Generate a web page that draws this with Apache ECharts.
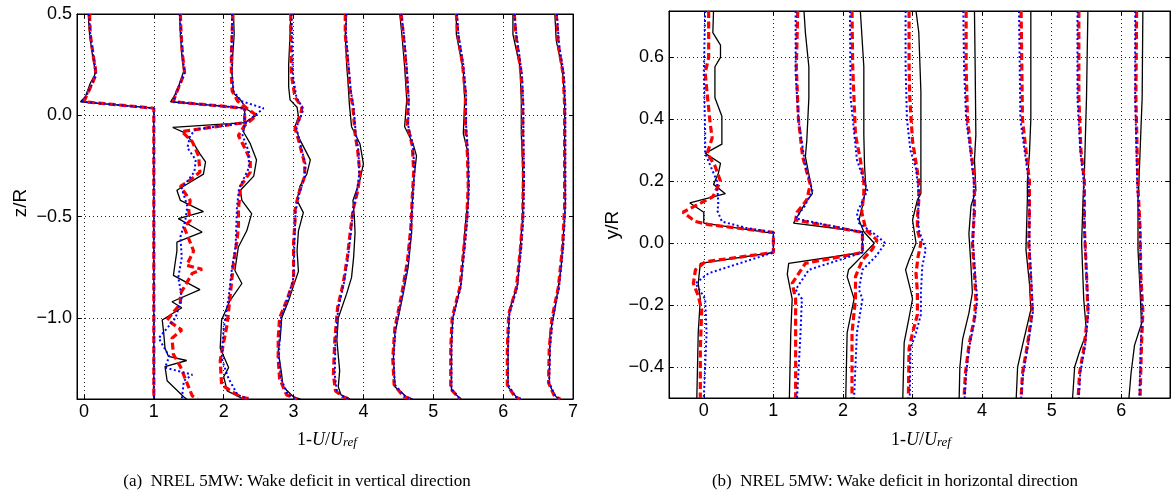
<!DOCTYPE html>
<html><head><meta charset="utf-8">
<script src="https://cdn.jsdelivr.net/npm/echarts@6/dist/echarts.min.js"></script>
<style>html,body{margin:0;padding:0;background:#fff}#c{width:1174px;height:495px}</style>
</head><body><div id="c"></div>
<script>
// ---------- Tick labels ----------
const leftXTicks = [0,1,2,3,4,5,6,7];
const leftYTicks = [-1.0,-0.5,0.0,0.5];
const rightXTicks = [0,1,2,3,4,5,6];
const rightYTicks = [-0.4,-0.2,0.0,0.2,0.4,0.6];

// ---------- Left panel (z/R) : [1-U/Uref (+offset), z/R] ----------
const L0_black = [[0.06,0.5],[0.08,0.4],[0.12,0.3],[0.15,0.24],[0.155,0.2],[0.09,0.158],[0.02,0.092],[-0.05,0.067],[1.0,0.035],[1.0,-0.5],[1.0,-1.0],[1.0,-1.4]];
const L0_red   = [[0.08,0.5],[0.09,0.4],[0.13,0.3],[0.16,0.24],[0.17,0.2],[0.11,0.15],[0.04,0.1],[0.0,0.067],[1.0,0.035],[1.0,-0.5],[1.0,-1.0],[1.0,-1.4]];
const L0_blue  = [[0.07,0.5],[0.09,0.4],[0.13,0.3],[0.16,0.24],[0.17,0.2],[0.11,0.15],[0.04,0.1],[-0.02,0.067],[1.0,0.035],[1.0,-0.5],[1.0,-1.0],[1.0,-1.4]];

const L1_black = [[1.37,0.5],[1.38,0.4],[1.40,0.3],[1.42,0.24],[1.43,0.22],[1.36,0.15],[1.30,0.1],[1.24,0.067],[2.3,0.035],[2.3,-0.036],[1.27,-0.06],[1.43,-0.084],[1.55,-0.13],[1.57,-0.14],[1.66,-0.19],[1.74,-0.23],[1.71,-0.29],[1.52,-0.33],[1.33,-0.37],[1.38,-0.42],[1.71,-0.475],[1.35,-0.51],[1.69,-0.576],[1.33,-0.626],[1.33,-0.67],[1.30,-0.74],[1.28,-0.79],[1.66,-0.86],[1.26,-0.92],[1.40,-0.95],[1.12,-1.01],[1.14,-1.07],[1.16,-1.15],[1.21,-1.19],[1.47,-1.21],[1.16,-1.24],[1.19,-1.31],[1.43,-1.39],[1.47,-1.4]];
const L1_red   = [[1.38,0.5],[1.39,0.4],[1.41,0.3],[1.43,0.24],[1.44,0.21],[1.37,0.15],[1.31,0.1],[1.28,0.067],[2.3,0.035],[2.3,-0.036],[1.40,-0.08],[1.55,-0.13],[1.64,-0.2],[1.66,-0.28],[1.52,-0.32],[1.38,-0.35],[1.52,-0.42],[1.50,-0.47],[1.52,-0.52],[1.43,-0.55],[1.57,-0.67],[1.47,-0.74],[1.69,-0.76],[1.55,-0.78],[1.38,-0.88],[1.38,-0.93],[1.19,-1.01],[1.40,-1.06],[1.26,-1.1],[1.28,-1.18],[1.38,-1.24],[1.55,-1.385],[1.62,-1.4]];
const L1_blue  = [[1.37,0.5],[1.39,0.4],[1.41,0.3],[1.43,0.24],[1.44,0.21],[1.37,0.15],[1.31,0.1],[1.28,0.067],[2.3,0.035],[2.3,-0.036],[1.60,-0.07],[1.52,-0.1],[1.48,-0.16],[1.60,-0.22],[1.58,-0.28],[1.40,-0.36],[1.48,-0.45],[1.45,-0.52],[1.38,-0.6],[1.40,-0.7],[1.35,-0.8],[1.40,-0.9],[1.31,-1.0],[1.19,-1.05],[1.07,-1.1],[1.22,-1.19],[1.16,-1.245],[1.55,-1.28],[1.43,-1.31],[1.40,-1.4]];

const L2_black = [[2.14,0.5],[2.15,0.4],[2.13,0.3],[2.12,0.2],[2.14,0.11],[2.24,0.076],[2.33,0.03],[2.47,0.0],[2.33,-0.03],[2.28,-0.08],[2.38,-0.14],[2.47,-0.22],[2.43,-0.30],[2.24,-0.37],[2.26,-0.42],[2.40,-0.485],[2.33,-0.57],[2.21,-0.65],[2.16,-0.766],[2.26,-0.83],[2.09,-0.914],[1.97,-1.01],[1.95,-1.15],[2.07,-1.245],[2.0,-1.29],[2.05,-1.36],[2.28,-1.4]];
const L2_red   = [[2.13,0.5],[2.12,0.4],[2.11,0.3],[2.11,0.2],[2.12,0.12],[2.2,0.07],[2.35,0.03],[2.47,0.0],[2.3,-0.05],[2.21,-0.1],[2.3,-0.16],[2.38,-0.22],[2.38,-0.28],[2.24,-0.35],[2.21,-0.47],[2.21,-0.55],[2.19,-0.62],[2.14,-0.73],[2.09,-0.9],[2.05,-1.03],[1.95,-1.21],[1.97,-1.33],[2.24,-1.39],[2.4,-1.4]];
const L2_blue  = [[2.12,0.5],[2.12,0.4],[2.11,0.3],[2.12,0.2],[2.14,0.12],[2.25,0.07],[2.57,0.035],[2.45,0.0],[2.3,-0.04],[2.27,-0.1],[2.36,-0.18],[2.36,-0.26],[2.22,-0.36],[2.19,-0.45],[2.18,-0.55],[2.17,-0.65],[2.12,-0.75],[2.07,-0.9],[2.0,-1.05],[1.97,-1.2],[2.07,-1.3],[2.2,-1.38],[2.35,-1.4]];

const L3_black = [[2.96,0.5],[2.95,0.4],[2.93,0.25],[2.93,0.14],[2.95,0.076],[3.05,0.04],[3.07,-0.007],[3.02,-0.056],[3.09,-0.12],[3.24,-0.22],[3.19,-0.29],[3.09,-0.35],[3.05,-0.42],[3.14,-0.48],[3.07,-0.57],[3.05,-0.67],[3.07,-0.77],[3.0,-0.84],[2.93,-0.914],[2.83,-1.0],[2.81,-1.1],[2.78,-1.16],[2.83,-1.28],[2.85,-1.34],[3.0,-1.39],[3.1,-1.4]];
const L3_red   = [[2.96,0.5],[2.96,0.4],[2.97,0.2],[3.02,0.09],[3.12,0.04],[3.10,0.0],[3.02,-0.064],[3.07,-0.12],[3.16,-0.24],[3.16,-0.3],[3.07,-0.39],[3.02,-0.47],[3.02,-0.52],[3.0,-0.63],[3.0,-0.82],[2.9,-0.914],[2.8,-1.0],[2.78,-1.1],[2.78,-1.2],[2.80,-1.3],[2.9,-1.38],[3.05,-1.4]];
const L3_blue  = [[2.97,0.5],[2.98,0.4],[2.99,0.2],[3.04,0.09],[3.14,0.03],[3.10,-0.01],[3.04,-0.06],[3.08,-0.12],[3.17,-0.24],[3.16,-0.3],[3.08,-0.39],[3.03,-0.47],[3.02,-0.55],[3.01,-0.65],[3.0,-0.8],[2.92,-0.9],[2.82,-1.0],[2.80,-1.1],[2.79,-1.2],[2.82,-1.3],[2.92,-1.38],[3.05,-1.4]];

const L4_black = [[3.76,0.5],[3.74,0.4],[3.76,0.25],[3.78,0.16],[3.80,0.05],[3.83,-0.056],[3.95,-0.14],[4.0,-0.24],[3.95,-0.32],[3.85,-0.42],[3.87,-0.5],[3.88,-0.58],[3.86,-0.7],[3.83,-0.8],[3.76,-0.88],[3.64,-1.0],[3.62,-1.11],[3.66,-1.26],[3.64,-1.34],[3.68,-1.38],[3.81,-1.4]];
const L4_red   = [[3.74,0.5],[3.74,0.4],[3.78,0.24],[3.81,0.12],[3.85,0.04],[3.88,-0.09],[3.92,-0.18],[3.95,-0.29],[3.92,-0.37],[3.85,-0.47],[3.81,-0.58],[3.77,-0.7],[3.71,-0.83],[3.63,-0.95],[3.59,-1.11],[3.57,-1.28],[3.60,-1.36],[3.71,-1.39],[3.8,-1.4]];
const L4_blue  = [[3.75,0.5],[3.75,0.4],[3.79,0.24],[3.82,0.12],[3.86,0.04],[3.89,-0.09],[3.93,-0.18],[3.94,-0.29],[3.91,-0.37],[3.85,-0.47],[3.82,-0.58],[3.78,-0.7],[3.72,-0.83],[3.64,-0.95],[3.60,-1.11],[3.59,-1.28],[3.62,-1.36],[3.72,-1.39],[3.8,-1.4]];

const L5_black = [[4.52,0.5],[4.55,0.4],[4.59,0.24],[4.62,0.076],[4.59,-0.056],[4.71,-0.14],[4.76,-0.2],[4.71,-0.35],[4.69,-0.5],[4.69,-0.58],[4.64,-0.75],[4.57,-0.88],[4.45,-1.08],[4.43,-1.19],[4.45,-1.34],[4.62,-1.39],[4.7,-1.4]];
const L5_red   = [[4.54,0.5],[4.57,0.4],[4.61,0.24],[4.64,0.076],[4.63,-0.05],[4.70,-0.15],[4.72,-0.28],[4.70,-0.4],[4.68,-0.55],[4.63,-0.72],[4.55,-0.88],[4.45,-1.05],[4.42,-1.2],[4.44,-1.33],[4.58,-1.39],[4.7,-1.4]];
const L5_blue  = [[4.54,0.5],[4.58,0.4],[4.62,0.24],[4.65,0.076],[4.64,-0.05],[4.71,-0.15],[4.73,-0.28],[4.71,-0.4],[4.68,-0.55],[4.64,-0.72],[4.56,-0.88],[4.46,-1.05],[4.43,-1.2],[4.45,-1.33],[4.6,-1.39],[4.7,-1.4]];

const L6_black = [[5.33,0.5],[5.33,0.4],[5.43,0.22],[5.45,0.076],[5.43,-0.09],[5.5,-0.19],[5.5,-0.35],[5.5,-0.42],[5.47,-0.5],[5.45,-0.58],[5.4,-0.83],[5.28,-1.0],[5.26,-1.11],[5.26,-1.36],[5.4,-1.4]];
const L6_red   = [[5.33,0.5],[5.35,0.4],[5.42,0.25],[5.46,0.1],[5.46,-0.05],[5.49,-0.2],[5.5,-0.35],[5.48,-0.5],[5.44,-0.65],[5.38,-0.85],[5.27,-1.0],[5.25,-1.15],[5.25,-1.35],[5.38,-1.4]];
const L6_blue  = [[5.34,0.5],[5.36,0.4],[5.43,0.25],[5.47,0.1],[5.47,-0.05],[5.5,-0.2],[5.51,-0.35],[5.49,-0.5],[5.45,-0.65],[5.39,-0.85],[5.28,-1.0],[5.26,-1.15],[5.26,-1.35],[5.38,-1.4]];

const L7_black = [[6.14,0.5],[6.14,0.4],[6.24,0.24],[6.26,0.076],[6.26,-0.09],[6.28,-0.25],[6.28,-0.5],[6.26,-0.58],[6.21,-0.83],[6.09,-0.96],[6.07,-1.11],[6.07,-1.34],[6.19,-1.39],[6.25,-1.4]];
const L7_red   = [[6.16,0.5],[6.18,0.4],[6.26,0.2],[6.28,0.05],[6.28,-0.1],[6.29,-0.3],[6.28,-0.5],[6.25,-0.65],[6.19,-0.85],[6.08,-0.98],[6.06,-1.15],[6.06,-1.33],[6.17,-1.39],[6.25,-1.4]];
const L7_blue  = [[6.16,0.5],[6.19,0.4],[6.27,0.2],[6.29,0.05],[6.29,-0.1],[6.30,-0.3],[6.29,-0.5],[6.26,-0.65],[6.2,-0.85],[6.09,-0.98],[6.07,-1.15],[6.07,-1.33],[6.18,-1.39],[6.25,-1.4]];

const L8_black = [[6.74,0.5],[6.76,0.37],[6.85,0.22],[6.88,0.076],[6.88,-0.17],[6.89,-0.42],[6.88,-0.5],[6.83,-0.75],[6.74,-0.96],[6.67,-1.08],[6.66,-1.33],[6.76,-1.39],[6.82,-1.4]];
const L8_red   = [[6.76,0.5],[6.79,0.35],[6.86,0.2],[6.88,0.05],[6.88,-0.2],[6.88,-0.45],[6.85,-0.65],[6.79,-0.85],[6.70,-1.0],[6.66,-1.15],[6.65,-1.32],[6.74,-1.39],[6.82,-1.4]];
const L8_blue  = [[6.77,0.5],[6.80,0.35],[6.87,0.2],[6.89,0.05],[6.89,-0.2],[6.89,-0.45],[6.86,-0.65],[6.80,-0.85],[6.71,-1.0],[6.67,-1.15],[6.66,-1.32],[6.75,-1.39],[6.82,-1.4]];

// ---------- Right panel (y/R) ----------
const R0_black = [[0.14,0.75],[0.13,0.68],[0.24,0.64],[0.24,0.6],[0.16,0.57],[0.16,0.47],[0.26,0.41],[0.26,0.32],[0.02,0.29],[0.24,0.258],[0.21,0.226],[0.14,0.19],[0.31,0.16],[-0.2,0.13],[0.0,0.10],[0.0,0.065],[1.0,0.032],[1.0,-0.03],[-0.05,-0.065],[-0.08,-0.13],[-0.05,-0.18],[-0.08,-0.29],[-0.1,-0.5]];
const R0_red   = [[0.07,0.75],[0.07,0.6],[0.02,0.55],[0.05,0.48],[0.09,0.39],[0.12,0.34],[0.05,0.29],[0.16,0.25],[0.24,0.2],[0.13,0.15],[-0.3,0.1],[-0.12,0.07],[0.07,0.06],[1.0,0.035],[1.0,-0.03],[0.02,-0.06],[-0.12,-0.086],[-0.15,-0.13],[-0.08,-0.17],[-0.03,-0.215],[-0.05,-0.34],[-0.05,-0.5]];
const R0_blue  = [[0.02,0.75],[0.0,0.55],[0.02,0.35],[0.02,0.29],[0.19,0.2],[0.21,0.12],[0.19,0.107],[0.26,0.07],[0.6,0.05],[1.0,0.035],[1.0,-0.03],[0.07,-0.097],[-0.12,-0.13],[0.02,-0.18],[0.04,-0.29],[0.0,-0.5]];

const R1_black = [[1.44,0.75],[1.46,0.68],[1.51,0.57],[1.51,0.47],[1.48,0.33],[1.46,0.28],[1.53,0.2],[1.56,0.16],[1.46,0.13],[1.29,0.065],[2.28,0.037],[2.28,-0.03],[1.22,-0.065],[1.2,-0.1],[1.27,-0.18],[1.25,-0.29],[1.23,-0.5]];
const R1_red   = [[1.35,0.75],[1.33,0.57],[1.36,0.4],[1.42,0.28],[1.53,0.19],[1.48,0.14],[1.34,0.1],[1.32,0.075],[2.28,0.035],[2.28,-0.03],[1.46,-0.065],[1.27,-0.13],[1.32,-0.18],[1.32,-0.29],[1.32,-0.5]];
const R1_blue  = [[1.32,0.75],[1.32,0.55],[1.36,0.4],[1.46,0.25],[1.56,0.17],[1.45,0.12],[1.32,0.08],[2.28,0.035],[2.28,-0.03],[1.51,-0.086],[1.32,-0.15],[1.41,-0.18],[1.39,-0.29],[1.34,-0.5]];

const R2_black = [[2.25,0.75],[2.3,0.57],[2.3,0.35],[2.31,0.25],[2.33,0.18],[2.28,0.12],[2.23,0.075],[2.3,0.037],[2.45,0.0],[2.28,-0.04],[2.08,-0.086],[2.06,-0.108],[2.16,-0.18],[2.06,-0.29],[2.04,-0.5]];
const R2_red   = [[2.13,0.75],[2.14,0.57],[2.18,0.35],[2.25,0.27],[2.3,0.2],[2.3,0.16],[2.27,0.1],[2.33,0.043],[2.49,0.01],[2.42,-0.02],[2.28,-0.054],[2.18,-0.108],[2.18,-0.18],[2.13,-0.29],[2.13,-0.5]];
const R2_blue  = [[2.1,0.75],[2.11,0.47],[2.2,0.27],[2.35,0.17],[2.2,0.097],[2.23,0.065],[2.47,0.027],[2.61,0.0],[2.47,-0.043],[2.28,-0.086],[2.23,-0.15],[2.28,-0.18],[2.2,-0.29],[2.16,-0.5]];

const R3_black = [[3.05,0.75],[3.09,0.68],[3.12,0.49],[3.12,0.3],[3.12,0.16],[3.07,0.14],[3.0,0.075],[3.05,0.0],[2.95,-0.054],[2.9,-0.086],[2.97,-0.15],[3.0,-0.18],[2.95,-0.24],[2.88,-0.32],[2.86,-0.5]];
const R3_red   = [[2.95,0.75],[2.95,0.57],[2.96,0.47],[3.0,0.33],[3.05,0.26],[3.09,0.2],[3.09,0.14],[3.07,0.08],[3.07,0.043],[3.12,0.0],[3.08,-0.043],[3.05,-0.097],[3.07,-0.16],[3.07,-0.23],[3.0,-0.29],[2.95,-0.34],[2.94,-0.5]];
const R3_blue  = [[2.9,0.75],[2.9,0.57],[2.92,0.4],[2.97,0.3],[3.05,0.24],[3.09,0.16],[3.08,0.1],[3.09,0.043],[3.19,-0.02],[3.14,-0.075],[3.12,-0.16],[3.12,-0.23],[3.05,-0.29],[2.97,-0.34],[2.96,-0.5]];

const R4_black = [[3.89,0.75],[3.9,0.57],[3.91,0.35],[3.89,0.27],[3.91,0.17],[3.84,0.12],[3.81,0.03],[3.84,-0.075],[3.86,-0.16],[3.81,-0.226],[3.72,-0.31],[3.68,-0.4],[3.67,-0.5]];
const R4_red   = [[3.77,0.75],[3.77,0.57],[3.79,0.4],[3.84,0.3],[3.89,0.2],[3.89,0.1],[3.86,0.0],[3.89,-0.1],[3.91,-0.18],[3.89,-0.24],[3.81,-0.33],[3.76,-0.42],[3.74,-0.5]];
const R4_blue  = [[3.73,0.75],[3.74,0.57],[3.77,0.4],[3.83,0.3],[3.88,0.2],[3.88,0.1],[3.87,0.0],[3.9,-0.1],[3.93,-0.18],[3.9,-0.24],[3.82,-0.33],[3.77,-0.42],[3.75,-0.5]];

const R5_black = [[4.7,0.75],[4.7,0.4],[4.68,0.29],[4.65,0.2],[4.65,0.14],[4.63,-0.02],[4.68,-0.13],[4.7,-0.215],[4.58,-0.33],[4.51,-0.4],[4.49,-0.5]];
const R5_red   = [[4.56,0.75],[4.58,0.4],[4.63,0.3],[4.68,0.2],[4.68,0.1],[4.67,0.0],[4.7,-0.13],[4.72,-0.22],[4.65,-0.33],[4.58,-0.42],[4.56,-0.5]];
const R5_blue  = [[4.53,0.75],[4.55,0.4],[4.61,0.3],[4.67,0.2],[4.68,0.1],[4.68,0.0],[4.71,-0.13],[4.73,-0.22],[4.66,-0.33],[4.59,-0.42],[4.56,-0.5]];

const R6_black = [[5.52,0.75],[5.5,0.47],[5.47,0.23],[5.45,0.14],[5.43,0.0],[5.46,-0.18],[5.5,-0.29],[5.4,-0.35],[5.33,-0.4],[5.3,-0.5]];
const R6_red   = [[5.39,0.75],[5.39,0.47],[5.42,0.3],[5.47,0.2],[5.47,0.05],[5.5,-0.1],[5.52,-0.22],[5.47,-0.33],[5.4,-0.42],[5.38,-0.5]];
const R6_blue  = [[5.37,0.75],[5.37,0.47],[5.41,0.3],[5.46,0.2],[5.47,0.05],[5.5,-0.1],[5.53,-0.22],[5.48,-0.33],[5.41,-0.42],[5.39,-0.5]];

const R7_black = [[6.31,0.75],[6.3,0.47],[6.25,0.18],[6.24,0.14],[6.24,-0.02],[6.27,-0.15],[6.29,-0.26],[6.19,-0.33],[6.14,-0.42],[6.11,-0.5]];
const R7_red   = [[6.22,0.75],[6.21,0.47],[6.24,0.18],[6.27,0.05],[6.28,-0.1],[6.31,-0.22],[6.29,-0.33],[6.27,-0.5]];
const R7_blue  = [[6.2,0.75],[6.2,0.47],[6.23,0.18],[6.27,0.05],[6.28,-0.1],[6.3,-0.22],[6.28,-0.33],[6.26,-0.5]];

const leftSets = [[L0_black,L0_red,L0_blue],[L1_black,L1_red,L1_blue],[L2_black,L2_red,L2_blue],[L3_black,L3_red,L3_blue],[L4_black,L4_red,L4_blue],[L5_black,L5_red,L5_blue],[L6_black,L6_red,L6_blue],[L7_black,L7_red,L7_blue],[L8_black,L8_red,L8_blue]];
const rightSets = [[R0_black,R0_red,R0_blue],[R1_black,R1_red,R1_blue],[R2_black,R2_red,R2_blue],[R3_black,R3_red,R3_blue],[R4_black,R4_red,R4_blue],[R5_black,R5_red,R5_blue],[R6_black,R6_red,R6_blue],[R7_black,R7_red,R7_blue]];

// ---------- Styling ----------
const FONT = 'Liberation Sans, Arial, sans-serif';
const SERIF = 'Liberation Serif, Times New Roman, serif';
const lineStyles = [
  {color:'#000000', width:1.3, type:'solid'},
  {color:'#ff0000', width:3.2, type:[7,3.5]},
  {color:'#0000ff', width:2, type:[2,2.5]}
];
const minus = v => (v < 0 ? '\u2212' : '') + Math.abs(v).toFixed(1);

function xAx(gi, min, max, ticks, pos, labels) {
  return {
    type:'value', gridIndex:gi, position:pos, min, max,
    axisLine:{show:true, onZero:false, lineStyle:{color:'#000', width:1}},
    axisTick:{show:true, inside:true, length:4, customValues:ticks, lineStyle:{color:'#000'}},
    axisLabel:{show:labels, customValues:ticks, color:'#000', fontFamily:FONT, fontSize:18, margin:4, formatter:v=>String(Math.round(v))},
    splitLine:{show:labels, lineStyle:{color:'#222', width:1, type:[1,3]}}
  };
}
function yAx(gi, min, max, ticks, pos, labels) {
  return {
    type:'value', gridIndex:gi, position:pos, min, max,
    axisLine:{show:true, onZero:false, lineStyle:{color:'#000', width:1}},
    axisTick:{show:true, inside:true, length:4, customValues:ticks, lineStyle:{color:'#000'}},
    axisLabel:{show:labels, customValues:ticks, color:'#000', fontFamily:FONT, fontSize:18, margin:5, formatter:minus},
    splitLine:{show:labels, lineStyle:{color:'#222', width:1, type:[1,3]}}
  };
}

const series = [];
function addSets(sets, axisIdx) {
  sets.forEach(set => {
    set.forEach((d, k) => {
      series.push({
        type:'line', xAxisIndex:axisIdx, yAxisIndex:axisIdx, data:d,
        symbol:'none', showSymbol:false, animation:false, silent:true,
        lineStyle:lineStyles[k], z:2+k
      });
    });
  });
}
addSets(leftSets, 0);
addSets(rightSets, 2);

const xName = {
  n:{fontFamily:SERIF, fontSize:18, fill:'#000', verticalAlign:'top', lineHeight:18},
  i:{fontFamily:SERIF, fontSize:18, fontStyle:'italic', fill:'#000', verticalAlign:'top', lineHeight:18},
  s:{fontFamily:SERIF, fontSize:13, fontStyle:'italic', fill:'#000', verticalAlign:'bottom', lineHeight:13, padding:[11,0,0,0]}
};

const chart = echarts.init(document.getElementById('c'), null, {renderer:'canvas'});
chart.setOption({
  animation:false,
  backgroundColor:'#fff',
  grid:[
    {left:77, top:14, width:496, height:385, show:true, borderColor:'#000', borderWidth:1},
    {left:669, top:11, width:501, height:387, show:true, borderColor:'#000', borderWidth:1}
  ],
  xAxis:[
    xAx(0,-0.1,7,leftXTicks,'bottom',true),
    xAx(0,-0.1,7,leftXTicks,'top',false),
    xAx(1,-0.5,6.7,rightXTicks,'bottom',true),
    xAx(1,-0.5,6.7,rightXTicks,'top',false)
  ],
  yAxis:[
    yAx(0,-1.4,0.5,leftYTicks,'left',true),
    yAx(0,-1.4,0.5,leftYTicks,'right',false),
    yAx(1,-0.5,0.75,rightYTicks,'left',true),
    yAx(1,-0.5,0.75,rightYTicks,'right',false)
  ],
  series,
  graphic:[
    {type:'text', x:21, y:203, rotation:Math.PI/2, style:{text:'z/R', fill:'#000', font:'19px '+FONT, textAlign:'center', textVerticalAlign:'middle'}},
    {type:'text', x:613, y:225, rotation:Math.PI/2, style:{text:'y/R', fill:'#000', font:'19px '+FONT, textAlign:'center', textVerticalAlign:'middle'}},
    {type:'text', x:327, y:440, style:{text:'{n|1-}{i|U}{n|/}{i|U}{s|ref}', textAlign:'center', textVerticalAlign:'middle', rich:xName}},
    {type:'text', x:921, y:440, style:{text:'{n|1-}{i|U}{n|/}{i|U}{s|ref}', textAlign:'center', textVerticalAlign:'middle', rich:xName}},
    {type:'text', x:297, y:482, style:{text:'(a)  NREL 5MW: Wake deficit in vertical direction', fill:'#000', font:'17px '+SERIF, textAlign:'center', textVerticalAlign:'middle'}},
    {type:'text', x:895, y:482, style:{text:'(b)  NREL 5MW: Wake deficit in horizontal direction', fill:'#000', font:'17px '+SERIF, textAlign:'center', textVerticalAlign:'middle'}}
  ]
});
</script>
</body></html>
